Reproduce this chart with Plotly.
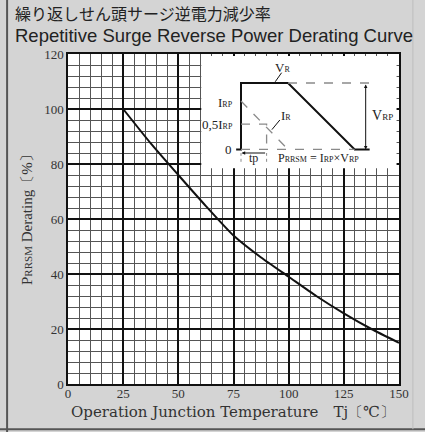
import plotly.graph_objects as go

# ---- data ----
tj = [25, 37.5, 50, 62.5, 75, 87.5, 100, 112.5, 125, 137.5, 150]
derating = [100, 87.5, 76, 64.7, 54, 46, 39, 32, 25.7, 20, 15]

x_ticks = [0, 25, 50, 75, 100, 125, 150]
y_ticks = [0, 20, 40, 60, 80, 100, 120]

# schematic (inset) levels in main-axis units
T0, T1, T2, T3, T4 = 78.4, 90.0, 99.7, 129.9, 136.7   # time points
LV0, LV_HALF, LV_IRP, LV_TOP = 85.3, 94.5, 102.9, 109.45  # levels
VRP_X = 134.9

SERIF = "Liberation Serif"
BLACK = "#111"
GRAY = "#8a8a8a"

fig = go.Figure()

# white inset panel
fig.add_shape(type="rect", x0=60.4, x1=148.9, y0=78.5, y1=119.3,
              fillcolor="white", line=dict(width=0), layer="between")

# main curve
fig.add_trace(go.Scatter(x=tj, y=derating, mode="lines",
                         line=dict(color=BLACK, width=2, shape="spline", smoothing=0.6),
                         hoverinfo="skip", showlegend=False))

def line(xs, ys, color=BLACK, width=2, dash="solid"):
    fig.add_trace(go.Scatter(x=xs, y=ys, mode="lines",
                             line=dict(color=color, width=width, dash=dash),
                             hoverinfo="skip", showlegend=False))

# schematic: voltage waveform (solid)
line([T0 - 2.2, T0, T0, T2, T3, T4], [LV0, LV0, LV_TOP, LV_TOP, LV0, LV0])
# dashed helpers
line([T2, T4], [LV_TOP, LV_TOP], GRAY, 1.3, "dash")
line([T0, T3], [LV0, LV0], GRAY, 1.3, "dash")
line([T0, T1, T1], [LV_HALF, LV_HALF, LV0 - 1.0], GRAY, 1.3, "dash")
line([T0, T2], [LV_IRP, LV0], GRAY, 1.3, "dash")
# tp markers
line([T0, T0], [80.8, 84.0], GRAY, 1, "dot")
line([T1, T1], [80.8, 84.0], GRAY, 1, "dot")
# pointers
line([96.8, 93.9], [113.2, 109.9], BLACK, 1)
line([96.0, 92.4], [96.0, 92.5], BLACK, 1)

def sub(main, s, small=8):
    return f"{main}<span style='font-size:{small}px'>{s}</span>"

ann = []
def text(x, y, t, size=12, xanchor="center", yanchor="middle", ref="data", angle=0, color="#222", family=SERIF):
    ann.append(dict(x=x, y=y, text=t, showarrow=False, xanchor=xanchor, yanchor=yanchor,
                    xref="x" if ref == "data" else "paper", yref="y" if ref == "data" else "paper",
                    textangle=angle, font=dict(family=family, size=size, color=color)))

text(97.4, 115.2, sub("V", "R"), 13)
text(98.6, 97.8, sub("I", "R"), 13)
text(75.6, 102.4, sub("I", "RP"), 13, xanchor="right")
text(75.6, 94.5, "0,5" + sub("I", "RP"), 13, xanchor="right")
text(75.0, 85.3, "0", 13, xanchor="right")
text(137.0, 97.6, sub("V", "RP", 9), 14, xanchor="left")
text(84.2, 82.3, "tp", 12)
text(113.5, 82.3, sub("P", "RRSM") + " = " + sub("I", "RP") + "×" + sub("V", "RP"), 12)

# arrows
ann.append(dict(x=VRP_X, y=LV0, ax=VRP_X, ay=LV_TOP, xref="x", yref="y", axref="x", ayref="y",
                text="", showarrow=True, arrowhead=2, arrowsize=0.7, arrowwidth=1,
                arrowside="end+start", arrowcolor=BLACK))
ann.append(dict(x=T0 + 0.3, y=84.0, ax=T1, ay=84.0, xref="x", yref="y", axref="x", ayref="y",
                text="", showarrow=True, arrowhead=2, arrowsize=0.7, arrowwidth=1,
                arrowcolor=BLACK))

# titles
text(-0.166, 1.123, "繰り返しせん頭サージ逆電力減少率", 16, xanchor="left", ref="paper",
     family="Noto Sans CJK JP")
text(-0.166, 1.055, "Repetitive Surge Reverse Power Derating Curve", 18.5, xanchor="left", ref="paper",
     family="Liberation Sans")
# axis titles
text(0.498, -0.085, "Operation Junction Temperature　Tj〔℃〕", 15, ref="paper", color="#333",
     family="DejaVu Serif")
text(-0.124, 0.509, sub("P", "RRSM", 11) + " Derating〔%〕", 15, ref="paper", angle=-90, color="#333")

fig.update_layout(annotations=ann)

# outer frame lines
fig.add_shape(type="line", xref="paper", yref="paper", x0=-0.184, x1=-0.184, y0=-0.2, y1=1.2,
              line=dict(color="#555", width=2))
fig.add_shape(type="line", xref="paper", yref="paper", x0=-0.25, x1=1.1, y0=-0.137, y1=-0.137,
              line=dict(color="#555", width=2))
fig.add_shape(type="line", xref="paper", yref="paper", x0=1.042, x1=1.042, y0=-0.137, y1=1.2,
              line=dict(color="#bdbdbd", width=1))

axis_common = dict(showline=True, linecolor=BLACK, linewidth=1.5, mirror=True,
                   showgrid=True, gridcolor=BLACK, gridwidth=1.6, zeroline=False,
                   ticks="", tickfont=dict(family=SERIF, size=13, color="#333"),
                   fixedrange=True)

fig.update_xaxes(range=[0, 150], tickvals=x_ticks, ticktext=[str(v) for v in x_ticks],
                 minor=dict(dtick=5, tick0=0, showgrid=True, gridcolor="#555", gridwidth=1),
                 ticklabelstandoff=-3,
                 **axis_common)
fig.update_yaxes(range=[0, 120], tickvals=y_ticks, ticktext=[str(v) for v in y_ticks],
                 minor=dict(dtick=4, tick0=0, showgrid=True, gridcolor="#555", gridwidth=1),
                 **axis_common)

fig.update_layout(width=425, height=432,
                  margin=dict(l=68, r=26, t=54, b=48),
                  paper_bgcolor="#d4d4d4", plot_bgcolor="white",
                  showlegend=False)

fig.write_html("out.html", config={"displayModeBar": False},
               post_script="document.body.style.margin='0';document.body.style.overflow='hidden';")
